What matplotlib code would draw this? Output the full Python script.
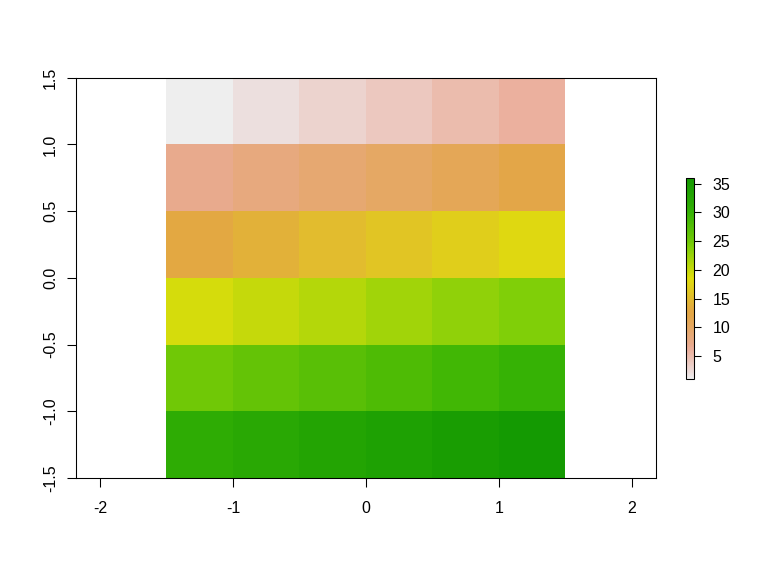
import numpy as np
import matplotlib
matplotlib.use("Agg")
import matplotlib.pyplot as plt
from matplotlib.colors import LinearSegmentedColormap

plt.rcParams["font.family"] = ["Liberation Sans", "DejaVu Sans"]

# 6x6 raster, top row first
row1 = [1, 2, 3, 4, 5, 6]
row2 = [7, 8, 9, 10, 11, 12]
row3 = [13, 14, 15, 16, 17, 18]
row4 = [19, 20, 21, 22, 23, 24]
row5 = [25, 26, 27, 28, 29, 30]
row6 = [31, 32, 33, 34, 35, 36]
x_edges = [-1.5, -1.0, -0.5, 0.0, 0.5, 1.0, 1.5]
y_edges = [1.5, 1.0, 0.5, 0.0, -0.5, -1.0, -1.5]
x_ticks = [-2, -1, 0, 1, 2]
y_ticks = [-1.5, -1.0, -0.5, 0.0, 0.5, 1.0, 1.5]
cbar_ticks = [5, 10, 15, 20, 25, 30, 35]

# palette stops (value, colour) sampled from the original plot
pal_values = [1, 2, 6, 7, 12, 13, 18.5, 24, 25, 30, 31, 36]
pal_colors = ["#eeeeee", "#ecdedd", "#ebb09d", "#e8aa8c", "#e3a648", "#e3a842",
              "#dfdd0c", "#80cf08", "#70c806", "#37b305", "#2eac04", "#149a02"]

grid = np.array([row1, row2, row3, row4, row5, row6])
vmin, vmax = grid.min(), grid.max()
stops = [(v - vmin) / (vmax - vmin) for v in pal_values]
cmap = LinearSegmentedColormap.from_list("rterrain", list(zip(stops, pal_colors)), N=255)

fig = plt.figure(figsize=(8, 6), dpi=96)
ax = fig.add_axes([0.099, 0.170, 0.755, 0.695])
ax.pcolormesh(x_edges, y_edges, grid, cmap=cmap, vmin=vmin, vmax=vmax)
ax.set_xlim(-2.18, 2.18)
ax.set_ylim(-1.5, 1.5)
ax.set_xticks(x_ticks)
ax.set_xticklabels([str(t) for t in x_ticks])
ax.set_yticks(y_ticks)
ax.set_yticklabels([f"{t:.1f}" for t in y_ticks], rotation=90, va="center")
ax.tick_params(direction="out", length=7, width=0.8, labelsize=12)
ax.tick_params(axis="x", pad=10)
ax.tick_params(axis="y", pad=6.5)
for sp in ax.spines.values():
    sp.set_linewidth(0.8)

cax = fig.add_axes([0.893, 0.342, 0.011, 0.349])
sm = plt.cm.ScalarMappable(cmap=cmap, norm=plt.Normalize(vmin, vmax))
cb = fig.colorbar(sm, cax=cax, ticks=cbar_ticks)
cb.outline.set_linewidth(0.8)
cax.tick_params(direction="out", length=5, width=0.8, labelsize=12, pad=8.5)

fig.savefig("out.png", dpi=96)
